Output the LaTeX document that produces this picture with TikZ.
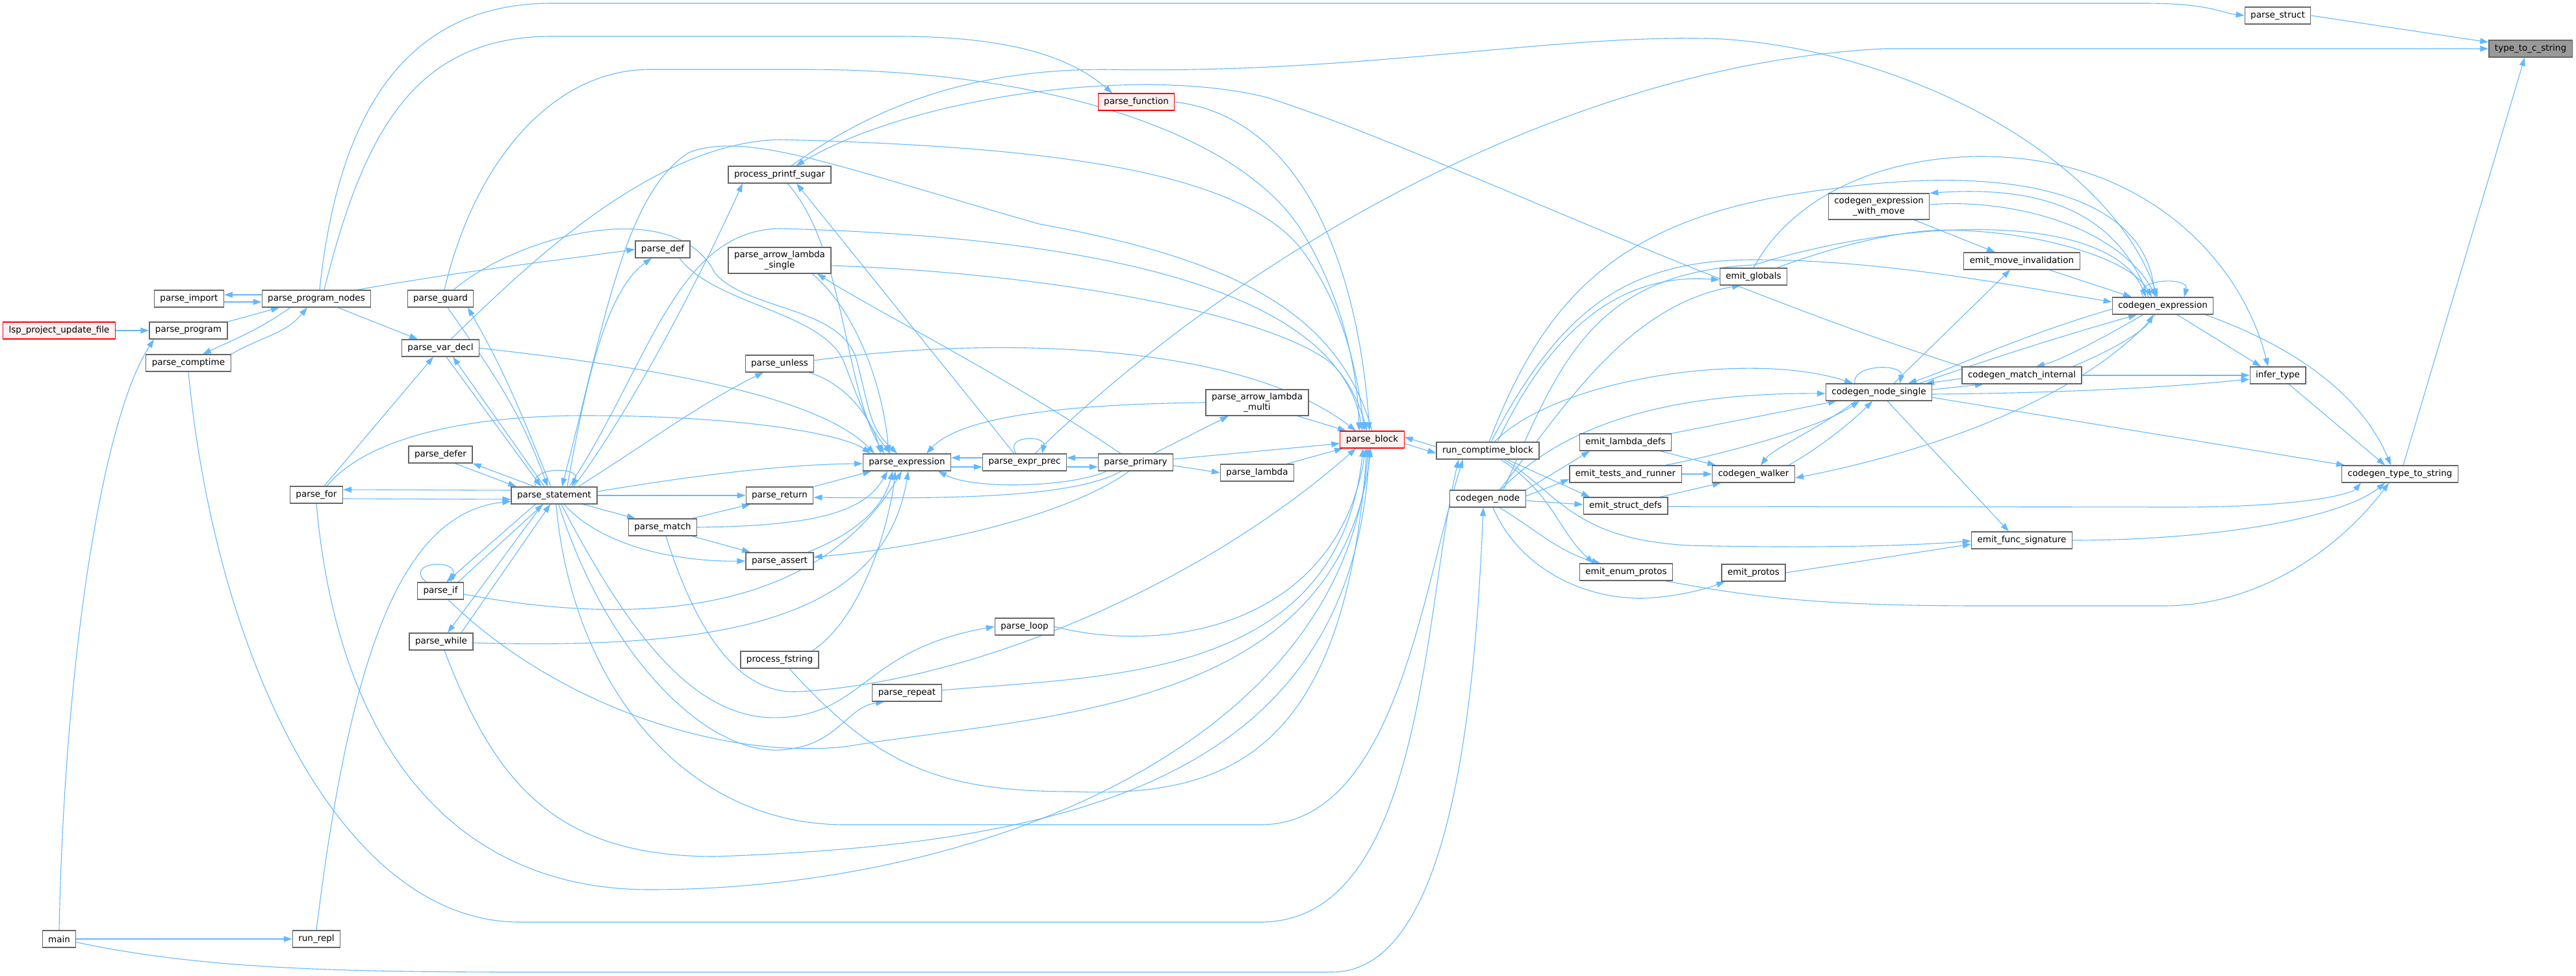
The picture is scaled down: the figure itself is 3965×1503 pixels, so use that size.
\documentclass[tikz,border=0pt]{standalone}
\usepackage{fontspec}
\usepackage{tikz}
\usetikzlibrary{arrows.meta,backgrounds}
\newfontfamily\dejavu{DejaVu Sans}
\definecolor{edgeblue}{HTML}{63B8FF}
\definecolor{boxgray}{HTML}{666666}
\definecolor{truncfill}{HTML}{FFF0F0}
\definecolor{rootgray}{HTML}{999999}

\begin{document}
\begin{tikzpicture}
[x=1pt,y=-1pt,
 font=\dejavu\fontsize{13.5pt}{16pt}\selectfont,
 fn/.style={draw=boxgray,fill=white,line width=1.2pt,minimum height=26pt,inner xsep=9pt,inner ysep=0pt},
 trunc/.style={fn,draw=red,fill=truncfill},
 root/.style={fn,fill=rootgray},
 two/.style={fn,align=center,minimum height=40pt},
 e/.style={draw=edgeblue,line width=1.1pt,-{Triangle[length=13pt,width=9pt]}}]
\useasboundingbox (0,0) rectangle (3965,1503);

% parser side
\node[trunc] (lsp) at (91,509) {lsp\_project\_update\_file};
\node[fn] (main) at (91,1446) {main};
\node[fn] (prog) at (290,509) {parse\_program};
\node[fn] (imp) at (291,460) {parse\_import};
\node[fn] (comp) at (290,559) {parse\_comptime};
\node[fn] (nodes) at (487,460) {parse\_program\_nodes};
\node[fn] (pfor) at (487,762) {parse\_for};
\node[fn] (repl) at (487,1446) {run\_repl};
\node[fn] (guard) at (678,460) {parse\_guard};
\node[fn] (vdecl) at (678,536) {parse\_var\_decl};
\node[fn] (defer) at (678,700) {parse\_defer};
\node[fn] (pif) at (678,910) {parse\_if};
\node[fn] (pwhile) at (679,988) {parse\_while};
\node[fn] (stmt) at (853,763) {parse\_statement};
\node[fn] (pdef) at (1020,384) {parse\_def};
\node[fn] (pmatch) at (1020,812) {parse\_match};
\node[fn] (printf) at (1200,269) {process\_printf\_sugar};
\node[two] (alsingle) at (1200,401) {parse\_arrow\_lambda\\\_single};
\node[fn] (unless) at (1200,560) {parse\_unless};
\node[fn] (pret) at (1200,763) {parse\_return};
\node[fn] (passert) at (1200,864) {parse\_assert};
\node[fn] (fstr) at (1200,1016) {process\_fstring};
\node[fn] (expr) at (1396,712) {parse\_expression};
\node[fn] (prepeat) at (1396,1067) {parse\_repeat};
\node[fn] (prec) at (1577,712) {parse\_expr\_prec};
\node[fn] (ploop) at (1577,965) {parse\_loop};
\node[trunc] (func) at (1749,157) {parse\_function};
\node[fn] (primary) at (1748,712) {parse\_primary};
\node[two] (almulti) at (1935,620) {parse\_arrow\_lambda\\\_multi};
\node[fn] (lambda) at (1935,728) {parse\_lambda};
\node[trunc] (block) at (2112,677) {parse\_block};
% codegen side
\node[fn] (rcb) at (2290,694) {run\_comptime\_block};
\node[fn] (cnode) at (2290,768) {codegen\_node};
\node[fn] (lambdadefs) at (2502,681) {emit\_lambda\_defs};
\node[fn] (tests) at (2502,730) {emit\_tests\_and\_runner};
\node[fn] (structdefs) at (2502,779) {emit\_struct\_defs};
\node[fn] (enumprotos) at (2503,881) {emit\_enum\_protos};
\node[fn] (globals) at (2699,426) {emit\_globals};
\node[fn] (walker) at (2699,730) {codegen\_walker};
\node[fn] (protos) at (2699,882) {emit\_protos};
\node[two] (withmove) at (2892,318) {codegen\_expression\\\_with\_move};
\node[fn] (single) at (2892,604) {codegen\_node\_single};
\node[fn] (moveinv) at (3112,402) {emit\_move\_invalidation};
\node[fn] (matchint) at (3112,578) {codegen\_match\_internal};
\node[fn] (funcsig) at (3112,832) {emit\_func\_signature};
\node[fn] (cexpr) at (3329,471) {codegen\_expression};
\node[fn] (infer) at (3506,578) {infer\_type};
\node[fn] (pstruct) at (3506,24) {parse\_struct};
\node[fn] (ctts) at (3694,730) {codegen\_type\_to\_string};
\node[root] (ttcs) at (3895,75) {type\_to\_c\_string}; % root

\begin{pgfonlayer}{background}
% left
\draw[e] (lsp) -- (prog);
\draw[e] (main.north) .. controls (100,1000) and (160,640) .. ([xshift=-53pt]prog.south);
\draw[e] (main) -- (repl);
\draw[e] ([yshift=-5pt]main.east) .. controls (300,1490) and (500,1497) .. (800,1497) -- (2050,1497) .. controls (2230,1497) and (2270,1100) .. ([xshift=-7pt]cnode.south);
\draw[e] (prog.north east) -- ([xshift=-57pt]nodes.south);
\draw[e] ([yshift=-5pt]imp.east) -- ([yshift=-5pt]nodes.west);
\draw[e] ([yshift=6pt]nodes.west) -- ([yshift=6pt]imp.east);
\draw[e] ([xshift=-40pt]nodes.south) to[out=-145,in=25] ([xshift=22pt]comp.north);
\draw[e] (comp.north east) to[out=30,in=-130] ([xshift=-14pt]nodes.south);
\draw[e] ([xshift=33pt]nodes.south) -- ([xshift=-35pt]vdecl.north);
\draw[e] ([xshift=5pt]nodes.north) .. controls (520,180) and (620,5) .. (850,5) -- (3300,5) .. controls (3400,5) and (3420,20) .. (pstruct.west);
\draw[e] ([xshift=12pt]nodes.north) .. controls (560,200) and (640,56) .. (850,56) -- (1380,56) .. controls (1560,56) and (1650,90) .. ([xshift=-37pt]func.north);
\draw[e] ([xshift=62pt]nodes.north) to[out=10,in=188] (pdef.west);
\draw[e] (comp.south) .. controls (330,1000) and (520,1420) .. (800,1420) -- (1940,1420) .. controls (2190,1420) and (2190,950) .. ([xshift=-45pt]rcb.south);
\draw[e] (repl.north) .. controls (540,1000) and (620,790) .. ([yshift=-9pt]stmt.west);
\draw[e] (pfor.south) .. controls (520,1150) and (700,1370) .. (1000,1370) .. controls (1500,1370) and (2070,1150) .. ([xshift=-6pt]block.south);
% parse_statement
\draw[e] ([yshift=8pt]stmt.west) -- ([yshift=8pt]pfor.east);
\draw[e] ([yshift=-6pt]pfor.east) -- ([yshift=-6pt]stmt.west);
\draw[e] ([xshift=12pt]pfor.north) -- ([xshift=-11pt]vdecl.south);
\draw[e] ([xshift=16pt]pfor.north) .. controls (560,680) and (700,640) .. (900,640) .. controls (1150,640) and (1300,670) .. ([xshift=-56pt]expr.north);
\draw[e] ([xshift=9pt]vdecl.south) -- ([xshift=-20pt]stmt.north);
\draw[e] ([xshift=-15pt]stmt.north) -- ([xshift=19pt]vdecl.south);
\draw[e] ([xshift=11pt]guard.south) to[out=-55,in=110] ([xshift=-10pt]stmt.north);
\draw[e] ([xshift=-5pt]stmt.north) to[out=112,in=-60] ([xshift=42pt]guard.south);
\draw[e] ([xshift=-30pt]stmt.north) -- (defer.south east);
\draw[e] ([xshift=22pt]defer.south) -- ([xshift=-58pt]stmt.north);
\draw[e] ([xshift=-28pt]stmt.north) .. controls (810,718) and (895,718) .. ([xshift=27pt]stmt.north);
\draw[e] ([xshift=20pt]stmt.north) .. controls (900,600) and (930,450) .. ([xshift=-17pt]pdef.south);
\draw[e] ([xshift=37pt]stmt.north) .. controls (1000,680) and (1080,620) .. ([xshift=-25pt]unless.south);
\draw[e] ([xshift=30pt]stmt.north) .. controls (980,620) and (1090,400) .. ([xshift=-57pt]printf.south);
\draw[e] ([xshift=23pt]stmt.north) .. controls (1000,560) and (1040,355) .. (1200,352) .. controls (1700,365) and (2060,450) .. ([xshift=-15pt]block.north);
\draw[e] (block.north) .. controls (2060,480) and (1900,400) .. (1600,345) .. controls (1300,260) and (1150,200) .. (1060,235) .. controls (960,300) and (930,500) .. ([xshift=12pt]stmt.north);
\draw[e] ([xshift=-29pt]stmt.south) -- ([xshift=9pt]pif.north);
\draw[e] ([xshift=27pt]pif.north) -- ([xshift=-17pt]stmt.south);
\draw[e] ([xshift=-22pt]pif.north) .. controls (620,865) and (705,860) .. ([xshift=16pt]pif.north);
\draw[e] ([xshift=-18pt]stmt.south) -- ([xshift=10pt]pwhile.north);
\draw[e] ([xshift=31pt]pwhile.north) -- ([xshift=-6pt]stmt.south);
\draw[e] (stmt.east) -- (pret.west);
\draw[e] ([xshift=-22pt]stmt.south east) -- ([xshift=-42pt]pmatch.north);
\draw[e] ([xshift=15pt]stmt.south) .. controls (930,845) and (1050,865) .. (passert.west);
\draw[e] ([yshift=6pt]stmt.east) .. controls (1050,735) and (1200,715) .. ([yshift=-2pt]expr.west);
\draw[e] ([xshift=7pt]stmt.south) .. controls (930,1000) and (1080,1160) .. (1200,1155) .. controls (1290,1150) and (1300,1090) .. ([xshift=-35pt]prepeat.south);
\draw[e] ([xshift=11pt]stmt.south) .. controls (980,1000) and (1080,1110) .. (1200,1105) .. controls (1330,1100) and (1330,1000) .. (ploop.west);
\draw[e] ([xshift=3pt]stmt.south) .. controls (880,1050) and (1050,1270) .. (1300,1270) -- (1940,1270) .. controls (2150,1270) and (2190,900) .. ([xshift=-38pt]rcb.south);
\draw[e] ([yshift=-5pt]pif.east) .. controls (950,960) and (1250,960) .. ([xshift=-8pt]expr.south);
\draw[e] ([yshift=-2pt]pwhile.east) .. controls (1100,1000) and (1360,960) .. ([xshift=2pt]expr.south);
\draw[e] ([xshift=12pt]pif.south) .. controls (850,1080) and (1100,1170) .. (1300,1150) .. controls (1600,1100) and (2060,1100) .. ([xshift=-2pt]block.south);
\draw[e] ([xshift=5pt]pwhile.south) .. controls (760,1200) and (850,1319) .. (1100,1319) .. controls (1650,1300) and (2080,1200) .. ([xshift=-4pt]block.south);
\draw[e] (vdecl.east) .. controls (950,560) and (1250,600) .. ([xshift=-50pt]expr.north);
\draw[e] ([xshift=16pt]vdecl.north) .. controls (800,420) and (1000,220) .. (1200,215) .. controls (1600,225) and (1900,260) .. (2000,380) .. controls (2070,470) and (2090,580) .. ([xshift=-12pt]block.north);
\draw[e] ([xshift=6pt]guard.north) .. controls (730,250) and (850,107) .. (1000,107) -- (1240,107) .. controls (1600,107) and (1900,200) .. (2000,350) .. controls (2070,460) and (2090,580) .. ([xshift=-20pt]block.north);
\draw[e] ([xshift=20pt]guard.north) .. controls (800,360) and (1040,300) .. (1100,420) .. controls (1150,480) and (1300,470) .. (1320,560) .. controls (1340,640) and (1340,660) .. ([xshift=-15pt]expr.north);
\draw[e] ([xshift=26pt]pdef.south) .. controls (1100,470) and (1270,480) .. (1300,560) .. controls (1330,640) and (1340,660) .. ([xshift=-25pt]expr.north);
% expressions
\draw[e] ([xshift=18pt]printf.north) .. controls (1350,160) and (1500,107) .. (1700,107) .. controls (2100,115) and (2400,50) .. (2650,60) .. controls (2950,80) and (3250,250) .. ([xshift=-8pt]cexpr.north);
\draw[e] (matchint.north west) .. controls (2600,430) and (2200,230) .. (1950,150) .. controls (1750,100) and (1400,150) .. ([xshift=25pt]printf.north);
\draw[e] ([xshift=12pt]printf.south) .. controls (1300,380) and (1300,600) .. ([xshift=-35pt]expr.north);
\draw[e] ([xshift=-16pt]prec.north) -- ([xshift=26pt]printf.south);
\draw[e] ([xshift=-23pt]primary.north) .. controls (1550,580) and (1350,480) .. ([xshift=58pt]alsingle.south);
\draw[e] ([xshift=50pt]alsingle.south) .. controls (1320,480) and (1360,600) .. ([xshift=-28pt]expr.north);
\draw[e] ([yshift=-8pt]alsingle.east) .. controls (1600,420) and (1950,480) .. (2050,560) .. controls (2080,590) and (2095,630) .. ([xshift=-8pt]block.north);
\draw[e] ([xshift=45pt]unless.south) .. controls (1300,590) and (1340,640) .. ([xshift=-40pt]expr.north);
\draw[e] ([yshift=5pt]unless.east) .. controls (1500,520) and (1900,520) .. ([xshift=-25pt]block.north);
\draw[e] ([yshift=7pt]prec.west) -- ([yshift=7pt]expr.east);
\draw[e] ([yshift=-7pt]expr.east) -- ([yshift=-7pt]prec.west);
\draw[e] ([yshift=7pt]primary.west) -- ([yshift=7pt]prec.east);
\draw[e] ([yshift=-7pt]prec.east) -- ([yshift=-7pt]primary.west);
\draw[e] ([xshift=-13pt]prec.north) .. controls (1545,670) and (1610,670) .. ([xshift=27pt]prec.north);
\draw[e] ([xshift=-45pt]primary.south) .. controls (1650,750) and (1500,755) .. ([xshift=48pt]expr.south);
\draw[e] ([xshift=-22pt]primary.south) .. controls (1650,768) and (1450,768) .. ([yshift=-3pt]pret.east);
\draw[e] ([xshift=-10pt]primary.south) .. controls (1650,790) and (1450,840) .. ([yshift=6pt]passert.east);
\draw[e] ([xshift=28pt]primary.north) -- ([xshift=-44pt]almulti.south);
\draw[e] ([yshift=5pt]primary.east) -- ([yshift=-6pt]block.west);
\draw[e] ([yshift=-5pt]primary.east) -- (lambda.west);
\draw[e] (almulti.west) .. controls (1650,622) and (1480,640) .. ([xshift=30pt]expr.north);
\draw[e] ([xshift=62pt]almulti.south) -- ([xshift=-40pt]block.north);
\draw[e] ([xshift=45pt]lambda.north) -- ([xshift=-45pt]block.south);
\draw[e] ([xshift=16pt]prec.north) .. controls (1900,400) and (2400,100) .. (2900,75) -- (ttcs.west);
\draw[e] (func.east) .. controls (2000,180) and (2090,400) .. ([xshift=-4pt]block.north);
\draw[e] (ploop.east) .. controls (1800,1010) and (2060,960) .. ([xshift=-10pt]block.south);
\draw[e] ([yshift=4pt]prepeat.east) .. controls (1700,1040) and (2060,1050) .. ([xshift=-14pt]block.south);
\draw[e] ([xshift=15pt]fstr.south) .. controls (1350,1180) and (1450,1219) .. (1650,1219) .. controls (1900,1230) and (2070,1150) .. ([xshift=-8pt]block.south);
\draw[e] ([xshift=5pt]pmatch.south) .. controls (1080,1000) and (1150,1070) .. (1230,1065) .. controls (1500,1050) and (1850,900) .. ([xshift=-25pt]block.south);
\draw[e] ([xshift=50pt]fstr.north) .. controls (1330,950) and (1370,800) .. ([xshift=-18pt]expr.south);
\draw[e] (pmatch.east) .. controls (1250,810) and (1330,790) .. ([xshift=-30pt]expr.south);
\draw[e] ([xshift=43pt]passert.north) .. controls (1320,820) and (1360,780) .. ([xshift=-22pt]expr.south);
\draw[e] (pret.north east) -- ([xshift=-55pt]expr.south);
\draw[e] ([xshift=45pt]pmatch.north) -- ([xshift=-45pt]pret.south);
\draw[e] ([xshift=45pt]pmatch.south) -- ([xshift=-45pt]passert.north);
% parse_block <-> run_comptime_block
\draw[e] ([yshift=6pt]rcb.west) -- ([yshift=4pt]block.east);
\draw[e] ([yshift=-6pt]block.east) -- ([yshift=-4pt]rcb.west);
% codegen
\draw[e] ([xshift=15pt]rcb.north) .. controls (2390,500) and (2500,420) .. ([yshift=-5pt]globals.west);
\draw[e] ([xshift=10pt]rcb.north) .. controls (2400,580) and (2700,540) .. ([xshift=-40pt]single.north);
\draw[e] ([xshift=5pt]rcb.north) .. controls (2400,480) and (2500,400) .. (2700,400) .. controls (2900,400) and (3100,440) .. ([yshift=6pt]cexpr.west);
\draw[e] ([xshift=2pt]rcb.north) .. controls (2380,450) and (2500,330) .. (2810,292) .. controls (3100,250) and (3300,300) .. ([xshift=-12pt]cexpr.north);
\draw[e] ([xshift=30pt]rcb.south) -- ([xshift=-55pt]structdefs.north);
\draw[e] ([xshift=20pt]rcb.south) .. controls (2390,760) and (2400,820) .. ([xshift=-50pt]enumprotos.north);
\draw[e] ([xshift=25pt]rcb.south) .. controls (2400,760) and (2420,830) .. (2600,840) .. controls (2800,845) and (2950,840) .. ([yshift=-1pt]funcsig.west);
\draw[e] ([xshift=18pt]cnode.north) .. controls (2400,640) and (2500,470) .. ([xshift=-20pt]globals.south);
\draw[e] ([xshift=20pt]cnode.north) .. controls (2420,640) and (2600,605) .. ([yshift=-2pt]single.west);
\draw[e] ([xshift=24pt]cnode.north) .. controls (2400,560) and (2450,420) .. (2700,408) .. controls (2950,330) and (3250,330) .. ([xshift=-26pt]cexpr.north);
\draw[e] (cnode.north east) -- ([xshift=-55pt]lambdadefs.south);
\draw[e] ([yshift=4pt]cnode.east) -- ([yshift=-8pt]tests.west);
\draw[e] ([yshift=-3pt]cnode.east) -- ([yshift=2pt]structdefs.west);
\draw[e] ([xshift=18pt]cnode.south) .. controls (2370,820) and (2400,850) .. ([xshift=-40pt]enumprotos.north);
\draw[e] ([xshift=8pt]cnode.south) .. controls (2340,880) and (2450,930) .. (2550,920) .. controls (2600,915) and (2630,905) .. ([xshift=-44pt]protos.south);
\draw[e] (lambdadefs.north east) -- ([xshift=-65pt]single.south);
\draw[e] ([xshift=53pt]lambdadefs.south) -- ([xshift=-58pt]walker.north);
\draw[e] (tests.east) -- (walker.west);
\draw[e] ([xshift=61pt]tests.north) .. controls (2650,700) and (2800,660) .. ([xshift=-30pt]single.south);
\draw[e] ([xshift=53pt]structdefs.north) -- ([xshift=-50pt]walker.south);
\draw[e] ([yshift=-1pt]structdefs.east) -- (3350,781) .. controls (3550,781) and (3620,760) .. ([xshift=-60pt]ctts.south);
\draw[e] ([xshift=60pt]enumprotos.south) .. controls (2700,920) and (2800,933) .. (3050,933) -- (3330,933) .. controls (3500,933) and (3620,820) .. ([xshift=-17pt]ctts.south);
\draw[e] (protos.east) -- ([yshift=-6pt]funcsig.west);
\draw[e] ([xshift=-36pt]single.south) .. controls (2800,660) and (2730,690) .. ([xshift=11pt]walker.north);
\draw[e] ([xshift=54pt]walker.north) .. controls (2800,690) and (2850,650) .. ([xshift=-10pt]single.south);
\draw[e] ([xshift=-12pt]cexpr.south) .. controls (3220,600) and (3000,690) .. ([yshift=-6pt]walker.east);
\draw[e] ([xshift=23pt]single.north) -- ([xshift=-18pt]moveinv.south);
\draw[e] ([xshift=-37pt]single.north) .. controls (2850,560) and (2930,560) .. ([xshift=32pt]single.north);
\draw[e] ([xshift=54pt]withmove.south) -- ([xshift=-41pt]moveinv.north);
\draw[e] ([xshift=42pt]moveinv.south) -- ([xshift=-48pt]cexpr.north);
\draw[e] ([xshift=-22pt]cexpr.north) .. controls (3260,330) and (3150,285) .. (withmove.north east);
\draw[e] ([yshift=3pt]withmove.east) .. controls (3100,305) and (3260,350) .. ([xshift=-10pt]cexpr.north);
\draw[e] ([xshift=-30pt]cexpr.north) .. controls (3280,430) and (3370,425) .. ([xshift=33pt]cexpr.north);
\draw[e] ([yshift=-5pt]cexpr.west) .. controls (3100,520) and (3000,570) .. ([xshift=45pt]single.north);
\draw[e] ([xshift=62pt]single.north) .. controls (3100,540) and (3200,510) .. ([xshift=-40pt]cexpr.south);
\draw[e] ([xshift=-30pt]cexpr.south) .. controls (3220,530) and (3170,555) .. ([xshift=22pt]matchint.north);
\draw[e] ([xshift=78pt]matchint.north) .. controls (3250,540) and (3300,510) .. ([xshift=-15pt]cexpr.south);
\draw[e] ([yshift=-5pt]matchint.west) -- ([xshift=72pt]single.north);
\draw[e] ([yshift=4pt]single.east) -- ([xshift=-59pt]matchint.south);
\draw[e] (matchint.east) -- (infer.west);
\draw[e] ([yshift=-3pt]single.east) .. controls (3200,605) and (3350,595) .. ([yshift=-6pt]infer.west);
\draw[e] ([yshift=-8pt]single.east) -- ([xshift=-85pt]ctts.north);
\draw[e] ([xshift=13pt]single.south) -- ([xshift=-20pt]funcsig.north);
\draw[e] ([xshift=22pt]cexpr.south) -- ([xshift=-26pt]infer.north);
\draw[e] ([xshift=17pt]infer.south) -- ([xshift=-23pt]ctts.north);
\draw[e] ([xshift=65pt]cexpr.south) .. controls (3550,540) and (3640,620) .. ([xshift=-14pt]ctts.north);
\draw[e] (funcsig.east) .. controls (3400,832) and (3600,800) .. ([xshift=-23pt]ctts.south);
\draw[e] ([xshift=5pt]ctts.north) -- ([xshift=-9pt]ttcs.south);
\draw[e] (pstruct.east) -- ([yshift=10pt]ttcs.west);
\draw[e] (globals.north) .. controls (2760,300) and (2900,241) .. (3050,241) .. controls (3300,241) and (3450,400) .. ([xshift=-15pt]infer.north);
\draw[e] ([xshift=36pt]globals.north) .. controls (2850,370) and (2950,350) .. (3020,355) .. controls (3150,360) and (3280,400) .. ([xshift=-17pt]cexpr.north);
\end{pgfonlayer}
\end{tikzpicture}
\end{document}
